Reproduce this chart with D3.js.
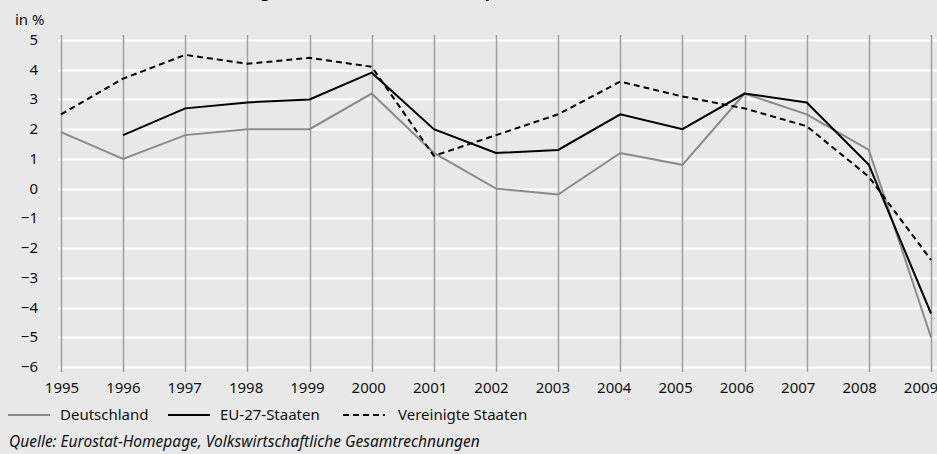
<!DOCTYPE html>
<html>
<head>
<meta charset="utf-8">
<script src="https://cdn.jsdelivr.net/npm/d3@7"></script>
<style>
	html, body { margin: 0; padding: 0; background: #e8e8e8; overflow: hidden; }
	svg { display: block; font-family: "Noto Sans", sans-serif; }
</style>
</head>
<body>
<svg id="chart" width="937" height="454"></svg>
<script>
// data
const years = [1995, 1996, 1997, 1998, 1999, 2000, 2001, 2002, 2003, 2004, 2005, 2006, 2007, 2008, 2009];
const deutschland = [1.9, 1.0, 1.8, 2.0, 2.0, 3.2, 1.2, 0.0, -0.2, 1.2, 0.8, 3.2, 2.5, 1.3, -5.0];
const eu27 = [null, 1.8, 2.7, 2.9, 3.0, 3.9, 2.0, 1.2, 1.3, 2.5, 2.0, 3.2, 2.9, 0.8, -4.2];
const usa = [2.5, 3.7, 4.5, 4.2, 4.4, 4.1, 1.1, 1.8, 2.5, 3.6, 3.1, 2.7, 2.1, 0.4, -2.4];
const yTicks = [5, 4, 3, 2, 1, 0, -1, -2, -3, -4, -5, -6];
const seriesNames = ["Deutschland", "EU-27-Staaten", "Vereinigte Staaten"];

const svg = d3.select("#chart");

const x = d3.scaleLinear().domain([1995, 2009]).range([61, 931]);
// the year labels sit on a slightly tighter spacing than the grid lines
const xLabel = d3.scaleLinear().domain([1995, 2009]).range([62, 921]);
const y = d3.scaleLinear().domain([-6, 5]).range([367, 40]);

// title, mostly outside of the visible area
svg.append("text")
	.attr("x", 606).attr("y", -3)
	.attr("text-anchor", "end")
	.style("font-size", "17px").style("font-weight", "bold")
	.text("Veränderung des realen Bruttoinlandsprodukts (BIP)");

// horizontal grid
svg.append("g").selectAll("line")
	.data(yTicks)
	.join("line")
	.attr("x1", 58).attr("x2", 937)
	.attr("y1", d => Math.round(y(d)) + 0.5).attr("y2", d => Math.round(y(d)) + 0.5)
	.attr("stroke", "#ffffff").attr("stroke-width", 2);

// vertical grid
svg.append("g").selectAll("line")
	.data(years)
	.join("line")
	.attr("x1", d => Math.round(x(d)) + 0.5).attr("x2", d => Math.round(x(d)) + 0.5)
	.attr("y1", 35).attr("y2", 372)
	.attr("stroke", "#9e9e9e").attr("stroke-width", 1.5);

// y labels
svg.append("g").selectAll("text")
	.data(yTicks)
	.join("text")
	.attr("x", 38).attr("y", d => y(d) + 5)
	.attr("text-anchor", "end")
	.style("font-size", "15px").attr("fill", "#111")
	.text(d => d < 0 ? "\u2212" + Math.abs(d) : d);

svg.append("text")
	.attr("x", 15).attr("y", 25)
	.style("font-size", "15px").attr("fill", "#111")
	.text("in %");

// x labels
svg.append("g").selectAll("text")
	.data(years)
	.join("text")
	.attr("x", d => xLabel(d)).attr("y", 393)
	.attr("text-anchor", "middle")
	.style("font-size", "15px").attr("fill", "#111")
	.text(d => d);

const line = d3.line()
	.defined(d => d[1] !== null)
	.x(d => x(d[0]))
	.y(d => y(d[1]));

const styles = [
	{ color: "#8a8a8a", dash: null },
	{ color: "#000000", dash: null },
	{ color: "#000000", dash: "6,4" }
];

[deutschland, eu27, usa].forEach((vals, i) => {
	svg.append("path")
		.datum(years.map((yr, j) => [yr, vals[j]]))
		.attr("d", line)
		.attr("fill", "none")
		.attr("stroke", styles[i].color)
		.attr("stroke-width", 2)
		.attr("stroke-dasharray", styles[i].dash);
});

// legend
const legendX = [8, 168, 343];
const legend = svg.append("g").selectAll("g")
	.data(seriesNames)
	.join("g")
	.attr("transform", (d, i) => `translate(${legendX[i]},415)`);

legend.append("line")
	.attr("x1", 0).attr("x2", 42)
	.attr("stroke", (d, i) => styles[i].color)
	.attr("stroke-width", 2)
	.attr("stroke-dasharray", (d, i) => styles[i].dash);

legend.append("text")
	.attr("x", (d, i) => i == 2 ? 55 : 52).attr("y", 5)
	.style("font-size", "15px").attr("fill", "#111")
	.text(d => d);

svg.append("text")
	.attr("x", 9).attr("y", 447)
	.style("font-size", "15.5px").style("font-style", "italic").attr("fill", "#111")
	.text("Quelle: Eurostat-Homepage, Volkswirtschaftliche Gesamtrechnungen");
</script>
</body>
</html>
